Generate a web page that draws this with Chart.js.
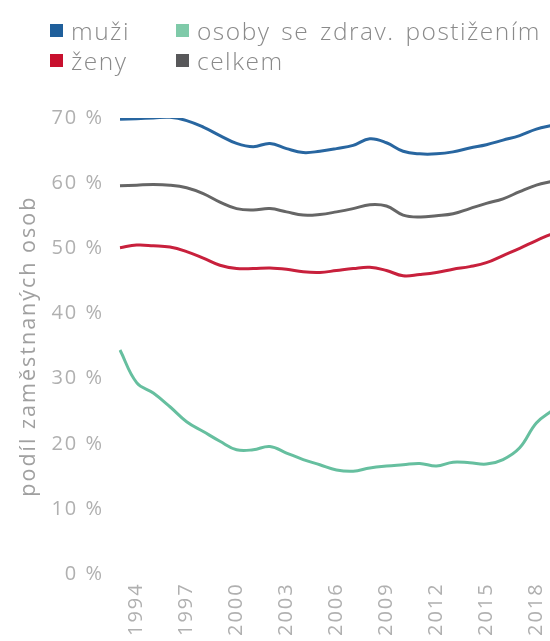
<!DOCTYPE html>
<html lang="cs">
<head>
<meta charset="utf-8">
<script src="https://cdn.jsdelivr.net/npm/chart.js@4.4.1/dist/chart.umd.min.js"></script>
<style>
  html, body { margin: 0; padding: 0; background: #fff; overflow: hidden; }
  #wrap { position: relative; width: 580px; height: 636px; }
  #legend {
    position: absolute; left: 50px; top: 15px;
    display: grid; grid-template-columns: 126px auto; row-gap: 0;
    font-family: 'Open Sans', sans-serif; font-weight: 300; font-size: 24.5px; color: #8a8a8a;
    letter-spacing: 1.5px; word-spacing: 3px; white-space: nowrap;
  }
  #legend span { display: flex; align-items: center; height: 30px; }
  #legend i { display: inline-block; width: 13px; height: 13px; margin-right: 8px; }
</style>
</head>
<body>
<div id="wrap">
  <canvas id="chart"></canvas>
  <div id="legend"></div>
</div>
<script>
// employment rate by group, 1993-2019
const years = ['1993', '1994', '1995', '1996', '1997', '1998', '1999', '2000', '2001', '2002',
  '2003', '2004', '2005', '2006', '2007', '2008', '2009', '2010', '2011', '2012',
  '2013', '2014', '2015', '2016', '2017', '2018', '2019'];
const tickYears = ['1994', '1997', '2000', '2003', '2006', '2009', '2012', '2015', '2018'];

const muzi = [69.8, 69.9, 70.0, 70.1, 69.6, 68.6, 67.3, 66.1, 65.6, 66.1,
  65.3, 64.7, 64.9, 65.3, 65.8, 66.8, 66.2, 64.9, 64.5, 64.5,
  64.8, 65.4, 65.9, 66.6, 67.3, 68.3, 68.9];
const zeny = [50.1, 50.5, 50.4, 50.2, 49.5, 48.5, 47.4, 46.9, 46.9, 47.0,
  46.8, 46.4, 46.3, 46.6, 46.9, 47.1, 46.6, 45.8, 46.0, 46.3,
  46.8, 47.2, 47.8, 48.9, 50.0, 51.2, 52.3];
const celkem = [59.6, 59.7, 59.8, 59.7, 59.3, 58.4, 57.1, 56.1, 55.9, 56.1,
  55.6, 55.1, 55.2, 55.6, 56.1, 56.7, 56.5, 55.1, 54.8, 55.0,
  55.3, 56.1, 56.9, 57.6, 58.7, 59.7, 60.3];
const postizeni = [34.4, 29.4, 27.8, 25.7, 23.4, 21.9, 20.4, 19.1, 19.1, 19.6,
  18.6, 17.6, 16.8, 16.0, 15.8, 16.3, 16.6, 16.8, 17.0, 16.6,
  17.2, 17.1, 16.9, 17.6, 19.4, 23.2, 25.2];

const series = [
  { label: 'muži', data: muzi, line: '#2866a0', box: '#1f5f9b' },
  { label: 'osoby se zdrav. postižením', data: postizeni, line: '#66bf9f', box: '#7fcaa9' },
  { label: 'ženy', data: zeny, line: '#c8203c', box: '#c8102e' },
  { label: 'celkem', data: celkem, line: '#666666', box: '#58585a' }
];

// legend in two columns like the original
const legend = document.getElementById('legend');
series.forEach(function(s) {
  const item = document.createElement('span');
  item.innerHTML = '<i style="background:' + s.box + '"></i>' + s.label;
  legend.appendChild(item);
});

// the original type is widely spaced
const spacing = {
  id: 'spacing',
  beforeLayout: function(chart) { chart.ctx.letterSpacing = '2px'; },
  beforeDraw: function(chart) { chart.ctx.letterSpacing = '2px'; }
};

const tickFont = { family: 'Open Sans', size: 20 };

new Chart(document.getElementById('chart'), {
  type: 'line',
  data: {
    labels: years,
    datasets: series.map(function(s) {
      return {
        label: s.label,
        data: s.data,
        borderColor: s.line,
        borderWidth: 3,
        tension: 0.4,
        pointRadius: 0,
        fill: false
      };
    })
  },
  options: {
    responsive: true,
    maintainAspectRatio: false,
    animation: false,
    layout: { padding: { top: 118, right: 27, left: 16, bottom: 0 } },
    plugins: {
      legend: { display: false },
      tooltip: { enabled: false }
    },
    scales: {
      x: {
        grid: { display: false },
        border: { display: false },
        ticks: {
          autoSkip: false,
          minRotation: 90,
          maxRotation: 90,
          padding: 0,
          color: '#b0b0b0',
          font: tickFont,
          callback: function(value) {
            const label = this.getLabelForValue(value);
            return tickYears.includes(label) ? label : '';
          }
        }
      },
      y: {
        min: 0,
        max: 70,
        grid: { display: false },
        border: { display: false },
        afterFit: function(scale) { scale.width = 104; },
        title: {
          display: true,
          text: 'podíl zaměstnaných osob',
          color: '#a0a0a0',
          font: { family: 'Open Sans', size: 21.5 },
          padding: { top: 0, bottom: 0 }
        },
        ticks: {
          stepSize: 10,
          padding: 8,
          color: '#b0b0b0',
          font: tickFont,
          callback: function(value) {
            return value + ' %';
          }
        }
      }
    }
  },
  plugins: [spacing]
});
</script>
</body>
</html>
